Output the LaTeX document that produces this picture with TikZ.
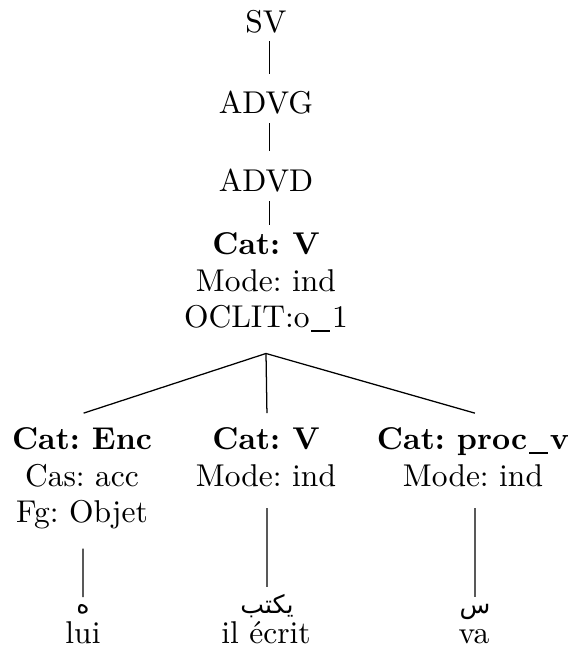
\documentclass[tikz,border=0pt]{standalone}
\usepackage{fontspec}
\newfontfamily\arabicfont[Script=Arabic]{DejaVu Sans}
\TeXXeTstate=1
\newcommand{\myus}{\kern0.06em\rule[-1.3pt]{0.6em}{0.45pt}\kern0.06em}
\tikzset{
  lbl/.style={inner sep=0pt, align=center, font=\fontsize{10}{11.6}\selectfont\frenchspacing},
  arlbl/.style={inner sep=0pt, font=\fontsize{8}{9}\arabicfont},
  edge/.style={draw=black, line width=0.4pt}
}
\begin{document}
\begin{tikzpicture}[x=0.3175pt, y=-0.3175pt]
\useasboundingbox[fill=white] (0,0) rectangle (575,657);
% upper chain
\node[lbl, anchor=base] (sv) at (266,33) {SV};
\node[lbl, anchor=base] (advg) at (266,114) {ADVG};
\node[lbl, anchor=base] (advd) at (266,191) {ADVD};
\node[lbl, anchor=north] (root) at (266,232) {\textbf{Cat: V}\\Mode: ind\\OCLIT:o\myus 1};
% children
\node[lbl, anchor=north] (enc) at (82,427) {\textbf{Cat: Enc}\\Cas: acc\\Fg: Objet};
\node[lbl, anchor=north] (mid) at (266,427) {\textbf{Cat: V}\\Mode: ind};
\node[lbl, anchor=north] (proc) at (473,427) {\textbf{Cat: proc\myus v}\\Mode: ind};
% leaves
\node[arlbl, anchor=base] (arA) at (83,613) {\beginR ه\endR};
\node[arlbl, anchor=base] (arB) at (267,613) {\beginR يكتب\endR};
\node[arlbl, anchor=base] (arC) at (475,613) {\beginR س\endR};
\node[lbl, anchor=base] (frA) at (83,643) {lui};
\node[lbl, anchor=base] (frB) at (266,643) {il écrit};
\node[lbl, anchor=base] (frC) at (474,643) {va};
% edges
\draw[edge] ([xshift=1pt,yshift=-2.2pt]sv.south) -- ([xshift=1pt,yshift=5.4pt]advg.north);
\draw[edge] ([xshift=1pt,yshift=-2.5pt]advg.south) -- ([xshift=1pt,yshift=5.4pt]advd.north);
\draw[edge] ([xshift=1pt,yshift=-2.8pt]advd.south) -- ([xshift=1pt,yshift=2.2pt]root.north);
\draw[edge] ([yshift=-6.7pt]root.south) -- ([xshift=0.5pt,yshift=4.4pt]enc.north);
\draw[edge] ([yshift=-6.7pt]root.south) -- ([xshift=0.3pt,yshift=4.4pt]mid.north);
\draw[edge] ([yshift=-6.7pt]root.south) -- ([xshift=0.6pt,yshift=4.4pt]proc.north);
\draw[edge] ([xshift=0.3pt,yshift=-6pt]enc.south) -- ([yshift=2pt]arA.north);
\draw[edge] ([xshift=0.3pt,yshift=-6.7pt]mid.south) -- ([yshift=2pt]arB.north);
\draw[edge] ([xshift=0.6pt,yshift=-6.7pt]proc.south) -- ([yshift=2pt]arC.north);
\end{tikzpicture}
\end{document}
